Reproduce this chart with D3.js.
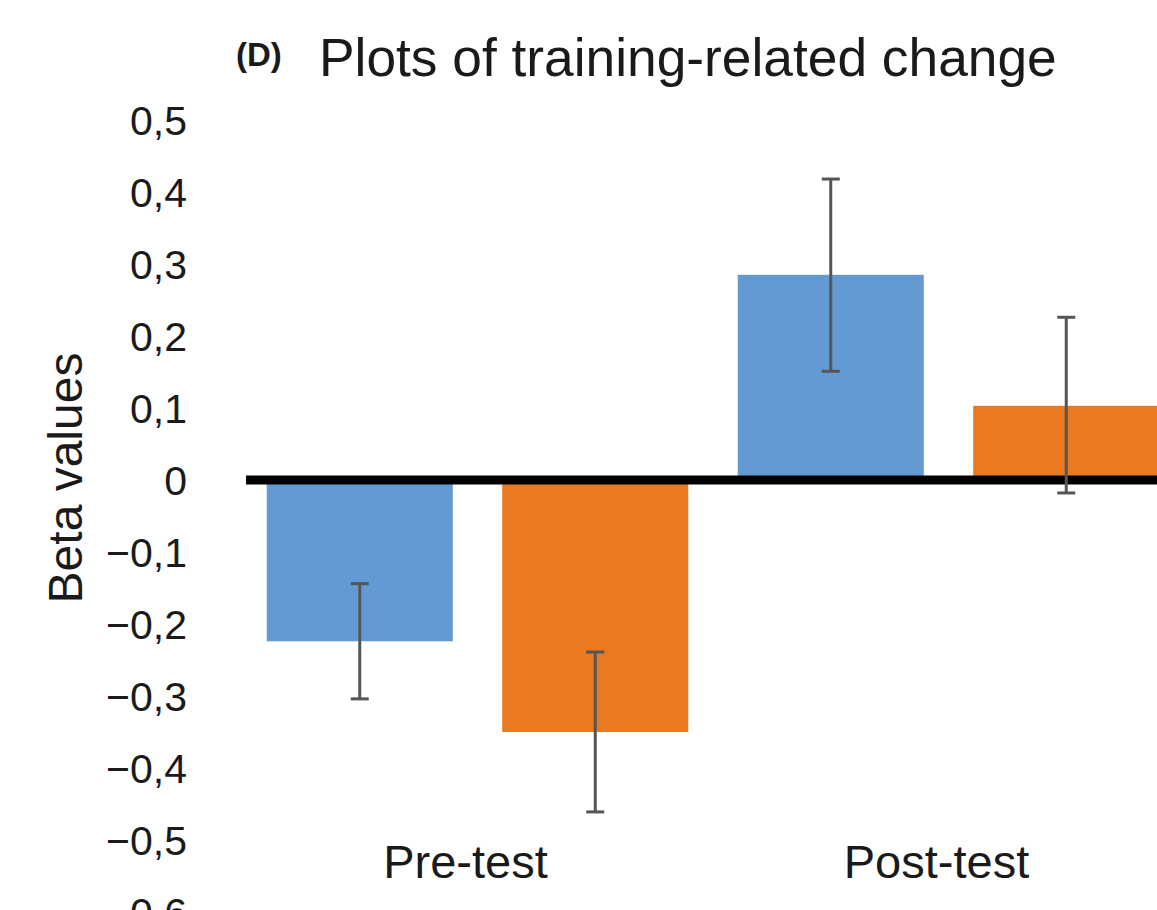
<!DOCTYPE html>
<html>
<head>
<meta charset="utf-8">
<script src="https://cdn.jsdelivr.net/npm/d3@7"></script>
<style>
  html, body { margin: 0; padding: 0; background: #ffffff; }
  svg { display: block; font-family: "Liberation Sans", Arial, sans-serif; }
</style>
</head>
<body>
<svg id="chart" width="1157" height="910"></svg>
<script>
// ---- Data ----
const categories = ["Pre-test", "Post-test"];
const seriesNames = ["Series 1", "Series 2"];
const series1Values = [-0.224, 0.285];
const series2Values = [-0.350, 0.103];
const series1ErrLow = [-0.304, 0.151];
const series1ErrHigh = [-0.144, 0.418];
const series2ErrLow = [-0.461, -0.018];
const series2ErrHigh = [-0.239, 0.226];
const yTicks = [0.5, 0.4, 0.3, 0.2, 0.1, 0, -0.1, -0.2, -0.3, -0.4, -0.5, -0.6];
const seriesColors = ["#649ad4", "#e97a22"];

const rows = [];
categories.forEach((c, i) => {
  rows.push({cat: c, s: seriesNames[0], v: series1Values[i], lo: series1ErrLow[i], hi: series1ErrHigh[i], color: seriesColors[0]});
  rows.push({cat: c, s: seriesNames[1], v: series2Values[i], lo: series2ErrLow[i], hi: series2ErrHigh[i], color: seriesColors[1]});
});

const svg = d3.select("#chart");

// ---- Scales ----
const y = d3.scaleLinear().domain([-0.6, 0.5]).range([912, 120]);
const x0 = d3.scaleBand().domain(categories).range([242, 1184]).padding(0);
const x1 = d3.scaleBand().domain(seriesNames).range([0, x0.bandwidth()])
  .paddingInner(0.21).paddingOuter(0.105);

// ---- Title ----
svg.append("text")
  .attr("x", 236).attr("y", 66)
  .attr("font-size", 33).attr("font-weight", "bold").attr("fill", "#1a1a1a")
  .text("(D)");
svg.append("text")
  .attr("x", 319).attr("y", 76)
  .attr("font-size", 53.3).attr("fill", "#1a1a1a")
  .text("Plots of training-related change");

// ---- Y axis (labels only) ----
const fmt = v => (v < 0 ? "\u2212" : "") + Math.abs(v).toFixed(1).replace(".", ",");
const yAxis = d3.axisLeft(y).tickValues(yTicks)
  .tickFormat(v => v === 0 ? "0" : fmt(v))
  .tickSize(0).tickPadding(0);
const gy = svg.append("g").attr("transform", "translate(187,0)").call(yAxis);
gy.select(".domain").remove();
gy.selectAll("text")
  .attr("font-family", "'Liberation Sans', Arial, sans-serif")
  .attr("font-size", 41).attr("fill", "#1a1a1a").attr("dy", "0.36em");

// ---- Y axis title ----
svg.append("text")
  .attr("transform", "translate(82,478) rotate(-90)")
  .attr("text-anchor", "middle")
  .attr("font-size", 48).attr("fill", "#1a1a1a")
  .text("Beta values");

// ---- Bars ----
svg.append("g").selectAll("rect").data(rows).join("rect")
  .attr("x", d => x0(d.cat) + x1(d.s))
  .attr("width", x1.bandwidth())
  .attr("y", d => Math.min(y(d.v), y(0)))
  .attr("height", d => Math.abs(y(d.v) - y(0)))
  .attr("fill", d => d.color);

// ---- Zero line ----
svg.append("line")
  .attr("x1", 246).attr("x2", 1157)
  .attr("y1", y(0)).attr("y2", y(0))
  .attr("stroke", "#000").attr("stroke-width", 9);

// ---- Error bars ----
const eg = svg.append("g").attr("stroke", "#555555").attr("stroke-width", 3);
rows.forEach(d => {
  const cx = x0(d.cat) + x1(d.s) + x1.bandwidth() / 2;
  eg.append("line").attr("x1", cx).attr("x2", cx).attr("y1", y(d.lo)).attr("y2", y(d.hi));
  eg.append("line").attr("x1", cx - 9).attr("x2", cx + 9).attr("y1", y(d.lo)).attr("y2", y(d.lo));
  eg.append("line").attr("x1", cx - 9).attr("x2", cx + 9).attr("y1", y(d.hi)).attr("y2", y(d.hi));
});

// ---- Category labels ----
svg.append("g").selectAll("text").data(categories).join("text")
  .attr("x", d => x0(d) + x0.bandwidth() / 2 - 12)
  .attr("y", 878)
  .attr("text-anchor", "middle")
  .attr("font-size", 47).attr("fill", "#1a1a1a")
  .text(d => d);
</script>
</body>
</html>
